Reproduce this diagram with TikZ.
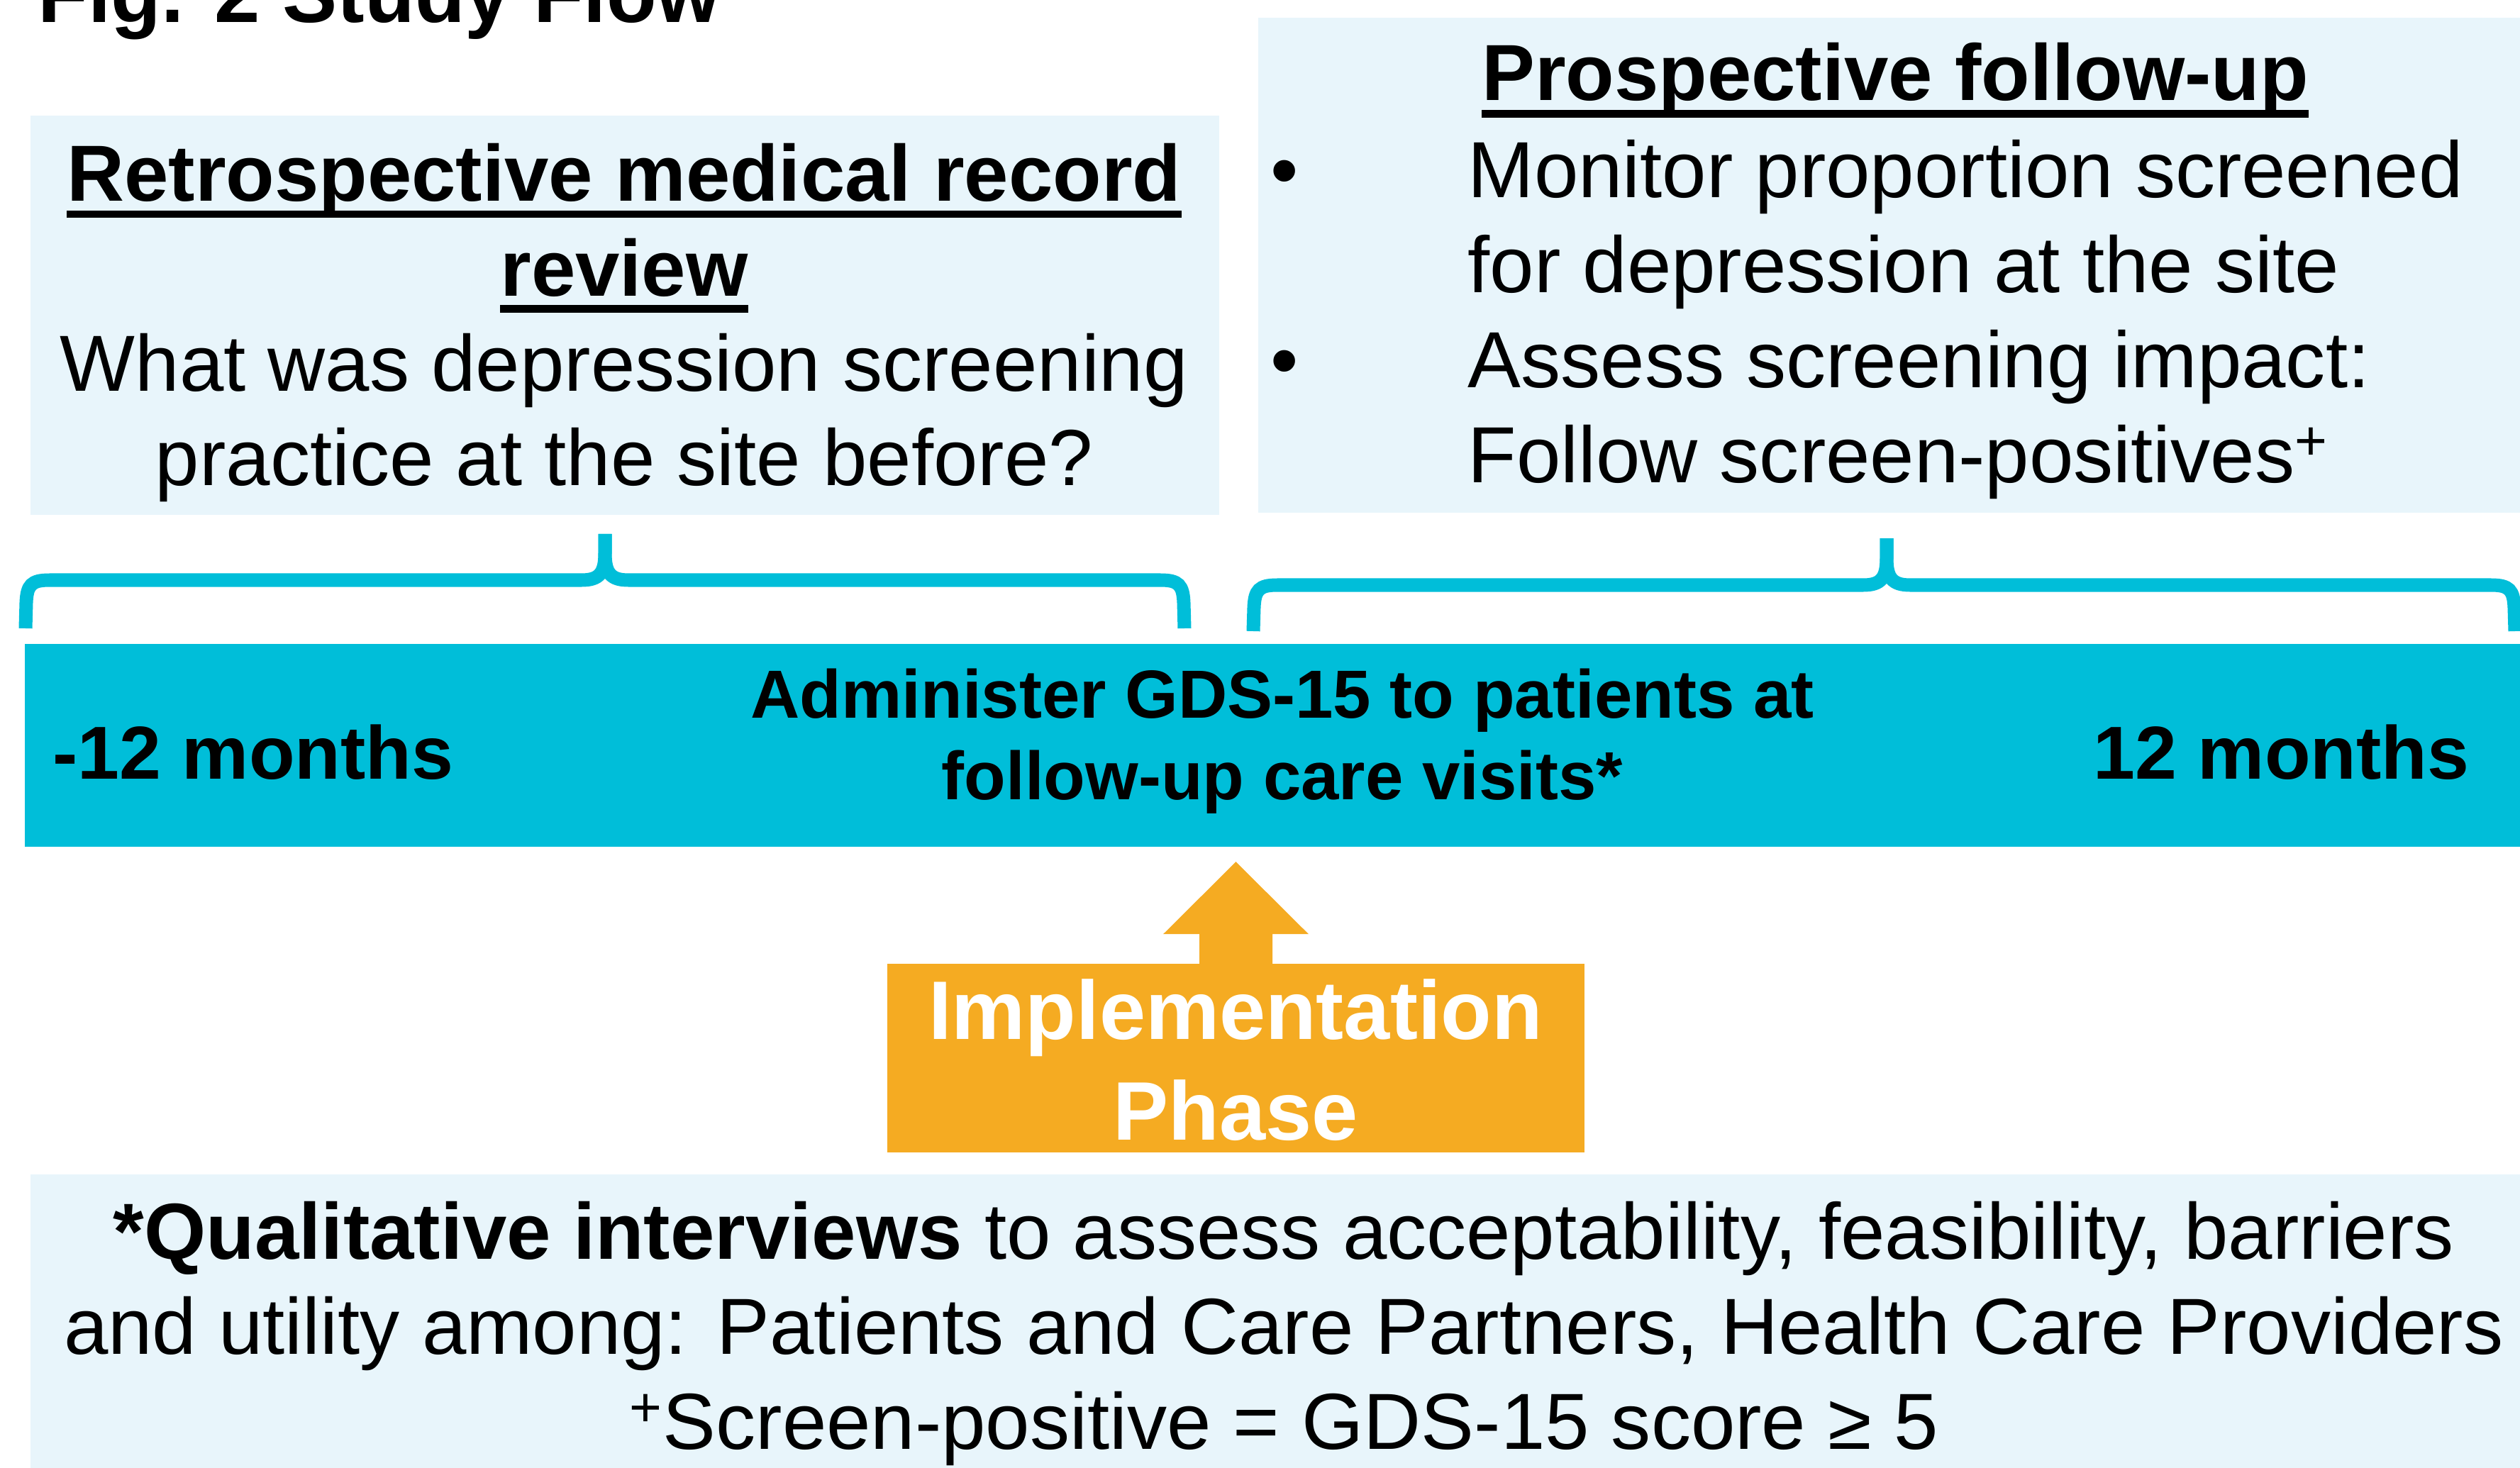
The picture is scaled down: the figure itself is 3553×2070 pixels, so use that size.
\documentclass[tikz,border=0pt]{standalone}
\usepackage{fontspec}
\setmainfont{Liberation Sans}

\definecolor{paleblue}{HTML}{E8F5FB}
\definecolor{barcyan}{HTML}{00BED9}
\definecolor{implorange}{HTML}{F5AB22}

% thick underline at a fixed depth, as in slide headings
\newcommand{\ulbar}[1]{\setbox0\hbox{#1}\rlap{\rule[-0.21em]{\wd0}{0.09em}}\box0}

\begin{document}
\begin{tikzpicture}[x=0.01cm, y=-0.01cm,
  panel/.style={fill=paleblue, inner sep=0pt},
  body/.style={inner sep=0pt, align=center, font=\fontsize{31.9}{38.1}\selectfont},
  bartext/.style={inner sep=0pt, font=\bfseries\fontsize{30.1}{35}\selectfont},
  brace/.style={draw=barcyan, line width=0.19cm}]

\useasboundingbox (0,0) rectangle (3553,2070);
\clip (0,0) rectangle (3553,2070);

% Title
\node[anchor=base west, inner sep=0pt, font=\bfseries\fontsize{32.9}{40}\selectfont] (title) at (53,32) {Fig. 2 Study Flow};

% Retrospective review (multi-line nodes sit on their last baseline)
\node[panel, minimum width=16.75cm, minimum height=5.63cm] (retro) at (880.5,444.5) {};
\node[body, anchor=base] (retrotxt) at (880,685)
  {\ulbar{\bfseries Retrospective medical record}\\ \ulbar{\bfseries review}\\
   What was depression screening\\ practice at the site before?};

% Prospective follow-up
\node[panel, minimum width=17.79cm, minimum height=6.98cm] (prosp) at (2663.5,374) {};
\node[body, anchor=base] (prosphead) at (2672,142) {\ulbar{\bfseries Prospective follow-up}};
\node[body, align=left, anchor=base west] (prosplist) at (2069,680)
  {\llap{•\hspace{68pt}}Monitor proportion screened\\ for depression at the site\\
   \llap{•\hspace{68pt}}Assess screening impact:\\ Follow screen-positives\textsuperscript{+}};

% Braces over the two periods
\foreach \l/\m/\r/\y/\t/\b in {36/853/1670/818/753/886, 1767/2660/3546/825/759/890} {
  \draw[brace] (\l,\b) -- ({\l+1},{\y+32}) .. controls ({\l+2},{\y+7}) and ({\l+8},\y) .. ({\l+34},\y)
    -- ({\m-33},\y) .. controls ({\m-8},\y) and (\m,{\y-10}) .. (\m,{\y-38}) -- (\m,\t);
  \draw[brace] (\r,\b) -- ({\r-1},{\y+32}) .. controls ({\r-2},{\y+7}) and ({\r-8},\y) .. ({\r-34},\y)
    -- ({\m+33},\y) .. controls ({\m+8},\y) and (\m,{\y-10}) .. (\m,{\y-38}) -- (\m,\t);
}

% Timeline bar
\node[fill=barcyan, inner sep=0pt, minimum width=35.17cm, minimum height=2.86cm] (bar) at (1794.5,1051) {};
\node[bartext, anchor=base west] (before) at (74,1098) {-12 months};
\node[bartext, anchor=base east] (after) at (3482,1098) {12 months};
\node[inner sep=0pt, align=center, anchor=base, font=\bfseries\fontsize{27.3}{32.7}\selectfont] (gds) at (1808,1127)
  {Administer GDS-15 to patients at\\ follow-up care visits*};

% Implementation phase
\node[fill=implorange, inner sep=0pt, minimum width=9.83cm, minimum height=2.66cm] (impl) at (1742.5,1492) {};
\fill[implorange] (impl.north) ++(-51.5,1) -- ++(0,-42) -- ++(-51,0) -- ++(102.5,-102)
  -- ++(102.5,102) -- ++(-51,0) -- ++(0,42) -- cycle;
\node[inner sep=0pt, align=center, anchor=base, text=white, font=\bfseries\fontsize{33.3}{40.1}\selectfont] (impltxt) at (1742,1607)
  {Implementation\\ Phase};

% Notes
\node[panel, minimum width=35.09cm, minimum height=4.24cm] (notes) at (1798.5,1868) {};
\node[body, anchor=base] (notestxt) at (1810,2043)
  {\textbf{*Qualitative interviews} to assess acceptability, feasibility, barriers\\
   and utility among: Patients and Care Partners, Health Care Providers\\
   \textsuperscript{+}Screen-positive = GDS-15 score ≥ 5};

\end{tikzpicture}
\end{document}
